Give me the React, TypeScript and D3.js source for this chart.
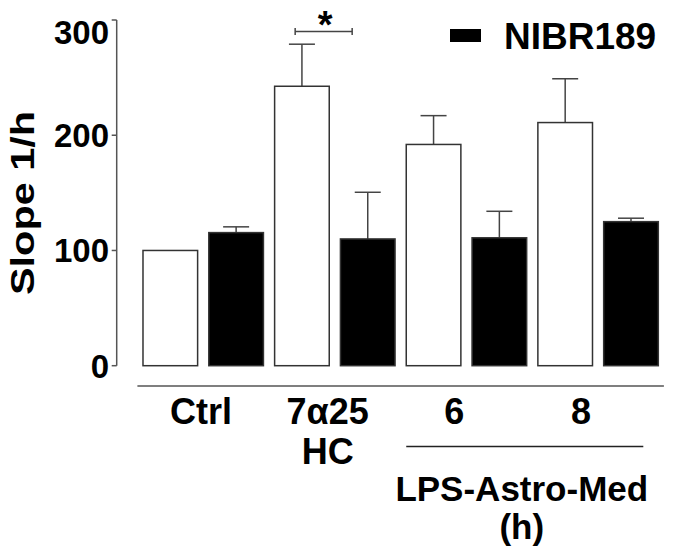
import React from "react";
import * as d3 from "d3";

// groups along the x axis
const groups = ["Ctrl", "7α25 HC", "6", "8"];
const series = ["Vehicle", "NIBR189"];

// bar heights (slope 1/h)
const vehicleValues = [100, 242.5, 192, 211];
const vehicleErrors = [0, 36.5, 25, 38];
const nibrValues = [115.5, 110, 111, 125];
const nibrErrors = [5, 40.5, 23, 3];

const yTicks = [0, 100, 200, 300];

// label text, first and second line
const labelLine1 = ["Ctrl", "7α25", "6", "8"];
const labelLine2 = ["", "HC", "", ""];

const width = 675;
const height = 553;
const font = "'Liberation Sans', Arial, Helvetica, sans-serif";

export default function App() {
  const x0 = d3
    .scaleBand<string>()
    .domain(groups)
    .range([137.4, 663.9])
    .paddingInner(0)
    .paddingOuter(0);

  const x1 = d3
    .scaleBand<string>()
    .domain(series)
    .range([0, x0.bandwidth()])
    .paddingInner(0.17)
    .paddingOuter(0.085);

  const y = d3.scaleLinear().domain([0, 300]).range([365.7, 20]);

  // label positions are spaced a little tighter than the groups
  const xLabel = d3.scalePoint<string>().domain(groups).range([201, 581]);

  const bars = groups.flatMap((g, i) => [
    { g, s: series[0], v: vehicleValues[i], e: vehicleErrors[i] },
    { g, s: series[1], v: nibrValues[i], e: nibrErrors[i] },
  ]);

  const bw = x1.bandwidth();
  const axisX = 116.7;

  // under-line for the LPS groups
  const lpsStart = (x0("6") as number) + (x1("Vehicle") as number);
  const lpsEnd = (x0("8") as number) + (x1("NIBR189") as number) + bw - 15;
  const lpsMid = (lpsStart + lpsEnd) / 2 - 3;

  // significance bracket over 7α25 HC
  const sigMid = (xLabel("7α25 HC") as number) - 4;
  const sigY = y(290);

  return (
    <svg width={width} height={height} style={{ display: "block", position: "absolute", left: 0, top: 0 }}>
      <rect x={0} y={0} width={width} height={height} fill="#fff" />

      {/* y axis */}
      <line x1={axisX} x2={axisX} y1={y(300)} y2={y(0)} stroke="#555" strokeWidth={1.5} />
      {yTicks.map((t) => (
        <g key={t}>
          <line x1={axisX - 5} x2={axisX} y1={y(t)} y2={y(t)} stroke="#555" strokeWidth={1.5} />
          <text
            x={109}
            y={y(t) + (t === 300 ? 12.5 : 0)}
            dy="0.36em"
            textAnchor="end"
            fontFamily={font}
            fontWeight="bold"
            fontSize={33}
          >
            {t}
          </text>
        </g>
      ))}
      <text
        transform={`translate(34, 203) rotate(-90)`}
        textAnchor="middle"
        fontFamily={font}
        fontWeight="bold"
        fontSize={34}
        textLength={184}
        lengthAdjust="spacingAndGlyphs"
      >
        Slope 1/h
      </text>

      {/* bars */}
      {bars.map((d, i) => {
        const bx = (x0(d.g) as number) + (x1(d.s) as number);
        const cx = bx + bw / 2;
        return (
          <g key={i}>
            {d.e > 0 && (
              <g stroke="#444" strokeWidth={1.5}>
                <line x1={cx} x2={cx} y1={y(d.v)} y2={y(d.v + d.e)} />
                <line x1={cx - 13} x2={cx + 13} y1={y(d.v + d.e)} y2={y(d.v + d.e)} />
              </g>
            )}
            <rect
              x={bx}
              y={y(d.v)}
              width={bw}
              height={y(0) - y(d.v)}
              fill={d.s === "Vehicle" ? "#fff" : "#000"}
              stroke="#333"
              strokeWidth={1.5}
            />
          </g>
        );
      })}

      {/* significance */}
      <g stroke="#444" strokeWidth={1.5}>
        <line x1={sigMid - 28.5} x2={sigMid + 28.5} y1={sigY} y2={sigY} />
        <line x1={sigMid - 28.5} x2={sigMid - 28.5} y1={sigY - 3.5} y2={sigY + 3.5} />
        <line x1={sigMid + 28.5} x2={sigMid + 28.5} y1={sigY - 3.5} y2={sigY + 3.5} />
      </g>
      <text x={sigMid + 1.5} y={38} textAnchor="middle" fontFamily={font} fontWeight="bold" fontSize={38}>
        *
      </text>

      {/* x axis line */}
      <line x1={x0.range()[0]} x2={x0.range()[1]} y1={386} y2={386} stroke="#555" strokeWidth={1.5} />

      {/* category labels */}
      {groups.map((g, i) => (
        <g key={g}>
          <text x={xLabel(g)} y={424} textAnchor="middle" fontFamily={font} fontWeight="bold" fontSize={36}>
            {labelLine1[i]}
          </text>
          {labelLine2[i] && (
            <text x={xLabel(g)} y={464} textAnchor="middle" fontFamily={font} fontWeight="bold" fontSize={36}>
              {labelLine2[i]}
            </text>
          )}
        </g>
      ))}

      <line x1={lpsStart} x2={lpsEnd} y1={446.5} y2={446.5} stroke="#222" strokeWidth={1.5} />
      <text x={lpsMid} y={501} textAnchor="middle" fontFamily={font} fontWeight="bold" fontSize={35}>
        LPS-Astro-Med
      </text>
      <text x={lpsMid} y={539} textAnchor="middle" fontFamily={font} fontWeight="bold" fontSize={35}>
        (h)
      </text>

      {/* legend */}
      <rect x={450} y={29} width={31} height={13} fill="#000" />
      <text x={504} y={49.3} fontFamily={font} fontWeight="bold" fontSize={37}>
        NIBR189
      </text>
    </svg>
  );
}
